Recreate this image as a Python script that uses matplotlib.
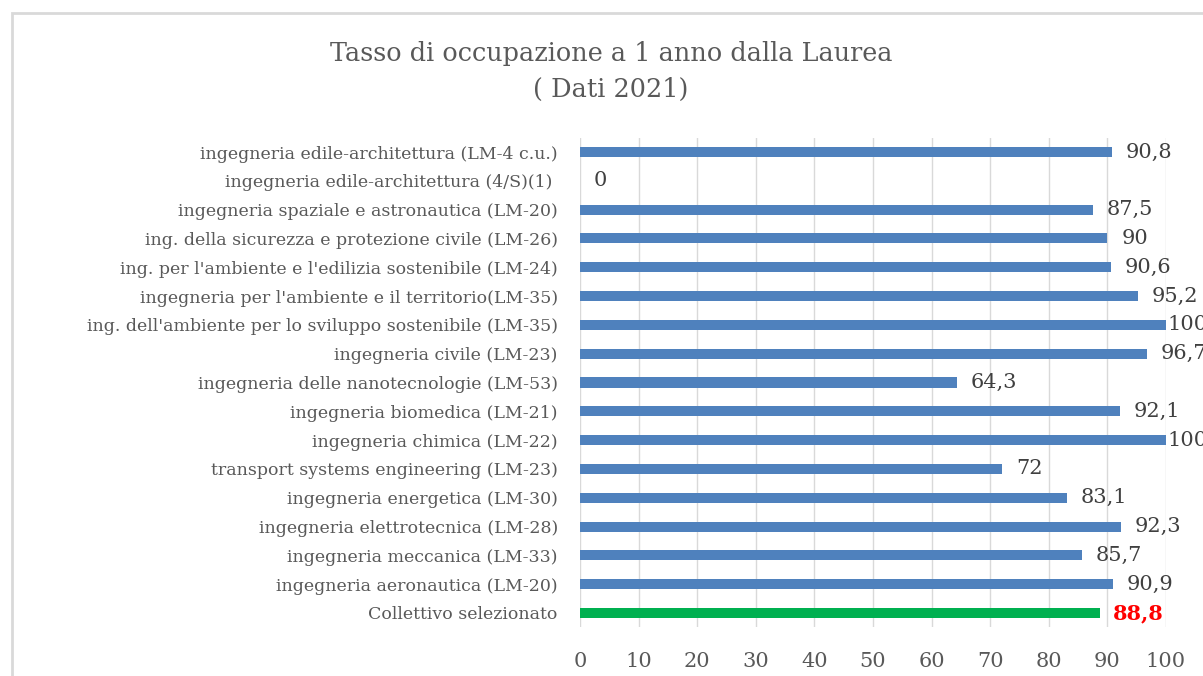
import matplotlib
matplotlib.use("Agg")
from matplotlib import pyplot as plt
from matplotlib.patches import Rectangle

# categories listed bottom to top
courses = [
    "Collettivo selezionato",
    "ingegneria aeronautica (LM-20)",
    "ingegneria meccanica (LM-33)",
    "ingegneria elettrotecnica (LM-28)",
    "ingegneria energetica (LM-30)",
    "transport systems engineering (LM-23)",
    "ingegneria chimica (LM-22)",
    "ingegneria biomedica (LM-21)",
    "ingegneria delle nanotecnologie (LM-53)",
    "ingegneria civile (LM-23)",
    "ing. dell'ambiente per lo sviluppo sostenibile (LM-35)",
    "ingegneria per l'ambiente e il territorio(LM-35)",
    "ing. per l'ambiente e l'edilizia sostenibile (LM-24)",
    "ing. della sicurezza e protezione civile (LM-26)",
    "ingegneria spaziale e astronautica (LM-20)",
    "ingegneria edile-architettura (4/S)(1) ",
    "ingegneria edile-architettura (LM-4 c.u.)",
]
rates = [88.8, 90.9, 85.7, 92.3, 83.1, 72, 100, 92.1, 64.3, 96.7, 100, 95.2, 90.6, 90, 87.5, 0, 90.8]
x_ticks = [0, 10, 20, 30, 40, 50, 60, 70, 80, 90, 100]

blue = "#4F81BD"
green = "#00B050"
gray_txt = "#595959"

plt.rcParams["font.family"] = ["DejaVu Serif"]

fig = plt.figure(figsize=(12.03, 6.76), dpi=100)
ax = fig.add_axes([580 / 1203, 1 - 627.4 / 676, 586 / 1203, (627.4 - 137.6) / 676])

# chart border
fig.patches.append(Rectangle((12 / 1203, -0.1), 1.2, 1 - 13 / 676 + 0.1, transform=fig.transFigure,
                             fill=False, edgecolor="#d9d9d9", linewidth=2))

colors = [green] + [blue] * (len(rates) - 1)
ypos = list(range(len(rates)))
ax.barh(ypos, rates, height=0.35, color=colors, zorder=3)

for i, v in enumerate(rates):
    label = f"{v:g}".replace(".", ",")
    if i == 0:
        ax.annotate(label, (v, i), xytext=(9, 0), textcoords="offset points", va="center",
                    fontsize=15, color="#FF0000", fontweight="bold", annotation_clip=False)
    else:
        off = 1 if v >= 99 else 10
        ax.annotate(label, (v, i), xytext=(off, 0), textcoords="offset points", va="center",
                    fontsize=15, color="#404040", annotation_clip=False)

ax.set_xlim(0, 100)
ax.set_ylim(-0.5, len(rates) - 0.5)
ax.set_xticks(x_ticks)
ax.set_yticks(ypos)
ax.set_yticklabels(courses)
ax.tick_params(axis="y", length=0, pad=16, labelsize=12.5, labelcolor=gray_txt)
ax.tick_params(axis="x", length=0, pad=18, labelsize=15, labelcolor=gray_txt)
ax.grid(axis="x", color="#d9d9d9", linewidth=1, zorder=0)
for s in ax.spines.values():
    s.set_visible(False)

fig.text(611 / 1203, 1 - 53 / 676, "Tasso di occupazione a 1 anno dalla Laurea", ha="center", va="center",
         fontsize=18.4, color=gray_txt)
fig.text(611 / 1203, 1 - 89 / 676, "( Dati 2021)", ha="center", va="center", fontsize=18.4, color=gray_txt)

fig.savefig("out.png", dpi=100)
